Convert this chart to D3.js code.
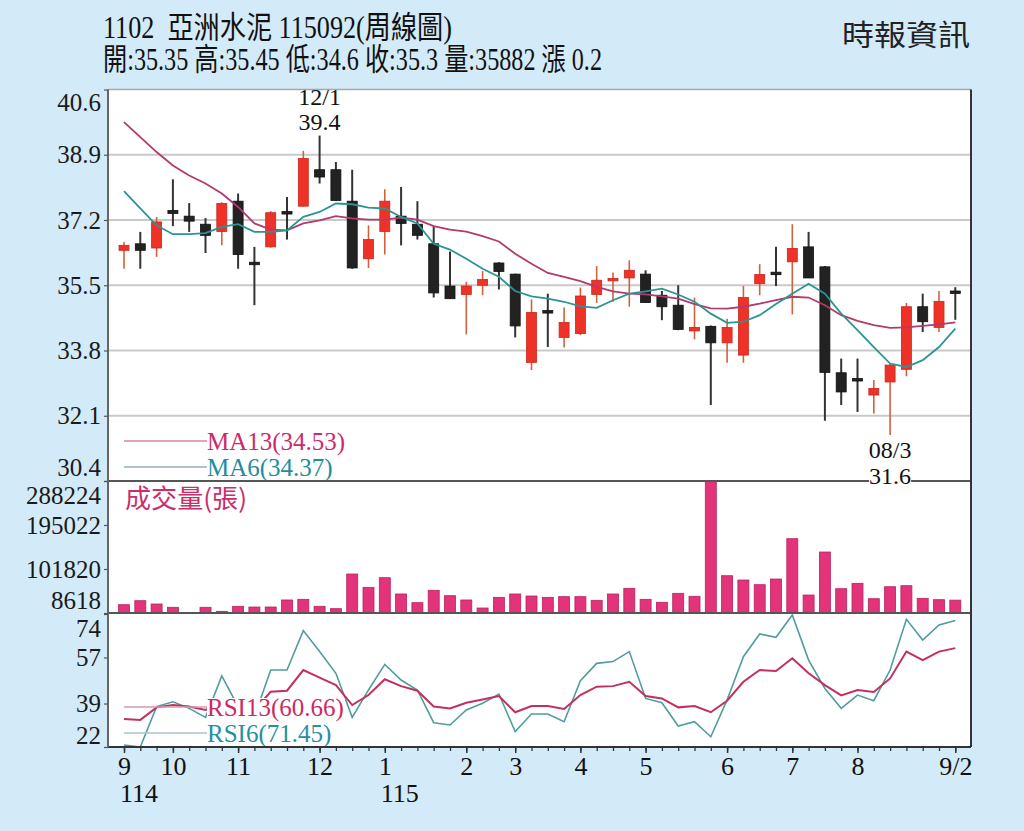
<!DOCTYPE html>
<html><head><meta charset="utf-8">
<script src="https://cdn.jsdelivr.net/npm/d3@7"></script>
<style>
html,body{margin:0;padding:0;background:#d3eaf8;}
svg{display:block;}
</style></head><body>
<svg id="chart" width="1024" height="831"></svg>
<script>
// ---------- DATA ----------
const weeks = ["25/09/08","25/09/15","25/09/22","25/09/29","25/10/06","25/10/13","25/10/20","25/10/27","25/11/03","25/11/10",
  "25/11/17","25/11/24","25/12/01","25/12/08","25/12/15","25/12/22","25/12/29","26/01/05","26/01/12","26/01/19",
  "26/01/26","26/02/02","26/02/09","26/02/16","26/02/23","26/03/02","26/03/09","26/03/16","26/03/23","26/03/30",
  "26/04/06","26/04/13","26/04/20","26/04/27","26/05/04","26/05/11","26/05/18","26/05/25","26/06/01","26/06/08",
  "26/06/15","26/06/22","26/06/29","26/07/06","26/07/13","26/07/20","26/07/27","26/08/03","26/08/10","26/08/17",
  "26/08/24","26/08/31"];
const openP  = [36.41,36.58,36.47,37.45,37.30,37.09,36.90,37.69,36.10,36.50,37.42,37.56,38.51,38.51,37.69,36.19,36.90,37.30,37.09,36.58,
  35.48,35.26,35.50,36.08,35.79,33.49,34.84,34.14,34.24,35.26,35.64,35.69,35.79,35.24,34.98,34.31,34.43,34.00,33.68,35.54,
  35.84,36.11,36.50,35.98,33.22,33.07,32.64,32.98,33.31,34.94,34.40,35.35];
const highP  = [36.63,36.89,37.28,38.26,37.64,37.25,37.66,37.89,36.50,37.43,37.80,39.00,39.40,38.71,38.51,37.06,38.00,38.06,37.69,37.04,
  36.38,35.59,35.87,36.10,35.80,35.13,35.28,34.92,35.44,36.00,35.83,36.15,35.89,35.35,35.50,35.18,34.45,34.63,35.48,36.05,
  36.50,37.09,36.89,36.00,33.59,33.59,33.03,33.45,35.04,35.28,35.35,35.45];
const lowP   = [35.93,35.93,36.24,37.04,36.89,36.34,36.54,35.93,34.98,36.48,36.69,37.55,38.15,37.70,35.93,35.95,36.30,36.54,36.69,35.18,
  35.14,34.22,35.24,35.39,34.14,33.29,33.89,33.88,34.20,35.04,35.07,34.94,35.04,34.59,34.33,34.09,32.38,33.48,33.48,35.24,
  35.48,34.74,35.69,31.97,32.38,32.20,32.16,31.60,33.13,34.28,34.28,34.60];
const closeP = [36.54,36.41,37.15,37.37,37.17,36.80,37.63,36.30,36.06,37.39,37.38,38.80,38.32,37.71,35.95,36.69,37.69,37.11,36.80,35.30,
  35.15,35.48,35.65,35.86,34.44,34.79,34.80,34.53,35.22,35.63,35.68,35.89,35.05,34.94,34.35,34.40,34.00,34.40,35.18,35.78,
  35.78,36.46,35.69,33.23,32.72,33.03,32.81,33.42,34.94,34.55,35.08,35.30];
const volume = [26200,34700,27700,20700,8618,20700,12200,22800,21300,21300,36200,37600,22800,17800,91200,63000,83400,48900,30500,56700,
  45300,36200,19200,41800,48900,44600,41800,43200,43200,35500,48900,60900,37600,31300,50300,44000,288224,87600,78500,68600,
  80600,166000,46700,137800,60100,71500,38900,64300,66500,39700,36800,35882];
const ma13 = [39.75,39.36,38.97,38.62,38.36,38.15,37.89,37.54,37.11,36.95,36.93,37.11,37.19,37.30,37.24,37.21,37.21,37.26,37.21,37.04,
  36.95,36.90,36.78,36.64,36.32,36.06,35.82,35.72,35.61,35.46,35.34,35.28,35.26,35.21,35.15,35.01,34.90,34.89,34.94,35.02,
  35.11,35.20,35.18,34.98,34.72,34.57,34.46,34.39,34.40,34.44,34.48,34.53];
const ma6 = [37.95,37.50,37.06,36.83,36.83,36.86,37.02,37.09,36.89,36.89,36.93,37.28,37.41,37.63,37.61,37.52,37.50,37.28,37.11,36.58,
  36.43,36.19,35.93,35.72,35.35,35.21,35.15,35.07,34.95,34.91,35.11,35.28,35.34,35.41,35.26,35.07,34.76,34.52,34.55,34.72,
  35.01,35.28,35.54,35.28,34.76,34.33,33.89,33.46,33.37,33.55,33.89,34.37];
const rsi13 = [32.9,32.6,37.5,38.4,37.8,36.5,39.7,38.4,36.5,43.6,44.0,52.1,49.1,46.2,38.4,42.3,48.5,45.8,44.0,37.8,
  37.1,39.3,40.6,41.9,35.6,38.0,38.0,36.9,42.3,45.6,45.8,47.5,41.9,41.0,37.5,38.0,35.6,40.1,47.5,52.1,
  51.7,56.7,50.8,46.2,42.2,44.3,43.5,48.8,59.3,56.0,59.3,60.66];
const rsi6 = [22.8,22.0,37.8,39.7,37.1,33.6,49.8,37.8,33.9,52.1,52.1,67.5,59.3,50.8,33.6,44.3,54.3,48.2,44.3,31.5,
  30.6,36.5,39.1,42.7,28.0,34.9,34.9,31.9,47.9,54.7,55.4,59.3,41.0,39.3,30.2,31.9,26.0,40.4,57.3,66.2,
  64.9,73.6,56.0,44.9,37.1,42.3,40.1,52.1,71.9,63.8,69.7,71.45];
const priceTicks  = [30.4, 32.1, 33.8, 35.5, 37.2, 38.9, 40.6];
const volumeTicks = [8618, 101820, 195022, 288224];
const rsiTicks    = [22, 39, 57, 74];
const monthTickIdx    = [0, 3, 7, 12, 16, 21, 24, 28, 32, 37, 41, 45, 51];
const monthTickLabels = ["9","10","11","12","1","2","3","4","5","6","7","8","9/2"];
const yearTickIdx    = [0, 16];
const yearTickLabels = ["114", "115"];
const titleText  = "1102  亞洲水泥 115092(周線圖)";
const quoteText  = "開:35.35 高:35.45 低:34.6 收:35.3 量:35882 漲 0.2";
const sourceText = "時報資訊";
const maLabels  = ["MA13(34.53)", "MA6(34.37)"];
const rsiLabels = ["RSI13(60.66)", "RSI6(71.45)"];
const volLabel  = "成交量(張)";
const highMark = {idx: 12, date: "12/1", value: "39.4"};
const lowMark  = {idx: 47, date: "08/3", value: "31.6"};

// ---------- LAYOUT ----------
const svg = d3.select("#chart");
const FONT = "'Liberation Serif','Times New Roman','Noto Sans CJK TC',serif";
const CJK = "'Noto Sans CJK TC','Liberation Serif',sans-serif";
const L = 108, R = 971;
const P = {top: 89.5, bottom: 481};
const V = {top: 481, bottom: 613};
const S = {top: 613, bottom: 747};
const RED = "#ee3227", REDW = "#d2613d", BLK = "#222", BLKW = "#333";

svg.append("rect").attr("width", 1024).attr("height", 831).attr("fill", "#d3eaf8");
svg.append("rect").attr("x", L).attr("y", P.top).attr("width", R - L).attr("height", S.bottom - P.top).attr("fill", "#fff");

const x = d3.scalePoint().domain(weeks).range([124, 955.3]);
const yP = d3.scaleLinear().domain([priceTicks[0], priceTicks[priceTicks.length - 1]]).range([P.bottom, P.top]);
const yV = d3.scaleLinear().domain([volumeTicks[0], volumeTicks[volumeTicks.length - 1]]).range([V.bottom, V.top]);
const yR = d3.scaleLinear().domain([rsiTicks[0], rsiTicks[rsiTicks.length - 1]]).range([S.bottom, S.top + 1]);

// gridlines
svg.append("g").selectAll("line").data(priceTicks.slice(1, -1)).join("line")
  .attr("x1", L).attr("x2", R).attr("y1", d => yP(d)).attr("y2", d => yP(d))
  .attr("stroke", "#c9c9c9").attr("stroke-width", 2);

// ---------- VOLUME ----------
svg.append("g").selectAll("rect").data(weeks).join("rect")
  .attr("x", d => x(d) - 5.5).attr("width", 11)
  .attr("y", (d, i) => yV(volume[i]))
  .attr("height", (d, i) => Math.max(0, yV(volumeTicks[0]) - yV(volume[i])))
  .attr("fill", "#e2337b").attr("stroke", "#b8245e").attr("stroke-width", 0.8);

svg.append("text").attr("x", 125).attr("y", 508).attr("font-family", CJK).attr("font-size", 26)
  .attr("fill", "#c8306a").attr("textLength", 122).attr("lengthAdjust", "spacingAndGlyphs").text(volLabel);

// ---------- CANDLES ----------
const candles = weeks.map((w, i) => ({w, o: openP[i], h: highP[i], l: lowP[i], c: closeP[i]}));
const cg = svg.append("g");
cg.selectAll("line").data(candles).join("line")
  .attr("x1", d => x(d.w)).attr("x2", d => x(d.w))
  .attr("y1", d => yP(d.h)).attr("y2", d => yP(d.l))
  .attr("stroke", d => d.c > d.o ? REDW : BLKW).attr("stroke-width", d => d.c > d.o ? 1.6 : 2);
cg.selectAll("rect").data(candles).join("rect")
  .attr("x", d => x(d.w) - 5).attr("width", 10)
  .attr("y", d => yP(Math.max(d.o, d.c)))
  .attr("height", d => Math.max(2.5, Math.abs(yP(d.o) - yP(d.c))))
  .attr("fill", d => d.c > d.o ? RED : BLK)
  .attr("stroke", d => d.c > d.o ? "#c8281f" : "#111").attr("stroke-width", 0.8);

// MA lines
const lineP = arr => d3.line().x((d, i) => x(weeks[i])).y(d => yP(d))(arr);
svg.append("path").attr("d", lineP(ma13)).attr("fill", "none").attr("stroke", "#b23a6c").attr("stroke-width", 1.8);
svg.append("path").attr("d", lineP(ma6)).attr("fill", "none").attr("stroke", "#2b9494").attr("stroke-width", 1.8);

// ---------- RSI ----------
svg.append("clipPath").attr("id", "rsiclip").append("rect")
  .attr("x", L).attr("y", S.top).attr("width", R - L).attr("height", S.bottom - S.top);
const lineR = arr => d3.line().x((d, i) => x(weeks[i])).y(d => yR(d))(arr);
const rg = svg.append("g").attr("clip-path", "url(#rsiclip)");
rg.append("path").attr("d", lineR(rsi6)).attr("fill", "none").attr("stroke", "#4f9d9d").attr("stroke-width", 1.6);
rg.append("path").attr("d", lineR(rsi13)).attr("fill", "none").attr("stroke", "#c2305e").attr("stroke-width", 2);

// ---------- LEGENDS ----------
function legendBlock(y0, labels, lineColors, textColors, bottom) {
  const g = svg.append("g");
  const box = g.append("rect").attr("fill", "#fff");
  let maxW = 0, top = null;
  labels.forEach((lab, k) => {
    const y = y0 + k * 26;
    g.append("line").attr("x1", 124).attr("x2", 207).attr("y1", y).attr("y2", y)
      .attr("stroke", lineColors[k]).attr("stroke-width", 1.5);
    const t = g.append("text").attr("x", 207).attr("y", y + 9).attr("font-family", FONT)
      .attr("font-size", 25).attr("fill", textColors[k]).text(lab);
    const bb = t.node().getBBox();
    maxW = Math.max(maxW, bb.width);
    if (top === null) top = bb.y + 4;
  });
  box.attr("x", 207).attr("y", top).attr("width", maxW + 1).attr("height", bottom - top - 1);
}
legendBlock(441, maLabels, ["#cf8aa3", "#8fb3b8"], ["#cc2a6c", "#1f8d9c"], P.bottom);
legendBlock(707, rsiLabels, ["#d79aae", "#a9c4c6"], ["#cc2a62", "#2590a2"], S.bottom);

// ---------- BORDERS ----------
const bl = (x1, y1, x2, y2, c, w) => svg.append("line").attr("x1", x1).attr("y1", y1).attr("x2", x2).attr("y2", y2)
  .attr("stroke", c).attr("stroke-width", w);
bl(L, P.top, R, P.top, "#a8a8a8", 1.5);
bl(L, P.bottom, R, P.bottom, "#555", 2);
bl(L, V.bottom, R, V.bottom, "#555", 2);
bl(L, S.bottom, R, S.bottom, "#333", 2);
bl(L, P.top, L, S.bottom, "#666", 2);
bl(R, P.top, R, S.bottom, "#333", 2);

// ---------- Y AXES ----------
function leftAxis(scale, ticks, fmt, topShift, bottomShift) {
  const g = svg.append("g").attr("transform", `translate(${L},0)`)
    .call(d3.axisLeft(scale).tickValues(ticks).tickSize(4).tickPadding(3).tickFormat(fmt));
  g.select(".domain").remove();
  g.selectAll(".tick line").attr("stroke", "#555").attr("stroke-width", 1.2);
  g.selectAll(".tick text").attr("font-family", FONT).attr("font-size", 25).attr("fill", "#1a1a1a");
  g.selectAll(".tick text").filter(d => d === ticks[ticks.length - 1]).attr("y", topShift);
  g.selectAll(".tick text").filter(d => d === ticks[0]).attr("y", bottomShift);
}
leftAxis(yP, priceTicks, d3.format(".1f"), 12.5, -14);
leftAxis(yV, volumeTicks, d => String(d), 14, -13);
leftAxis(yR, rsiTicks, d => String(d), 14, -12);

// ---------- X AXIS ----------
const gx = svg.append("g").attr("transform", `translate(0,${S.bottom})`)
  .call(d3.axisBottom(x).tickValues(weeks).tickSize(4).tickFormat(""));
gx.select(".domain").remove();
gx.selectAll("line").attr("stroke", "#333").attr("stroke-width", 1.3);
const gm = svg.append("g").attr("transform", `translate(0,${S.bottom})`)
  .call(d3.axisBottom(x).tickValues(monthTickIdx.map(i => weeks[i])).tickSize(6)
    .tickFormat((d, i) => monthTickLabels[i]));
gm.select(".domain").remove();
gm.selectAll("line").attr("stroke", "#333").attr("stroke-width", 1.5);
gm.selectAll("text").attr("font-family", FONT).attr("font-size", 26).attr("fill", "#111").attr("y", 28).attr("dy", 0);
svg.append("g").selectAll("text").data(yearTickIdx).join("text")
  .attr("x", d => x(weeks[d]) - 4).attr("y", 802).attr("font-family", FONT).attr("font-size", 26)
  .attr("fill", "#111").text((d, i) => yearTickLabels[i]);

// ---------- ANNOTATIONS ----------
function ann(idx, txt, y, bg) {
  const g = svg.append("g");
  const r = g.append("rect").attr("fill", "#fff");
  const t = g.append("text").attr("x", x(weeks[idx])).attr("y", y).attr("text-anchor", "middle")
    .attr("font-family", FONT).attr("font-size", 24).attr("fill", "#111").text(txt);
  if (bg) { const b = t.node().getBBox(); r.attr("x", b.x).attr("y", b.y + 4).attr("width", b.width).attr("height", b.height - 5); }
}
ann(highMark.idx, highMark.date, 105, false);
ann(highMark.idx, highMark.value, 130, false);
ann(lowMark.idx, lowMark.date, 458, false);
ann(lowMark.idx, lowMark.value, 484, true);

// ---------- TITLES ----------
svg.append("text").attr("x", 103).attr("y", 38).attr("font-family", FONT).attr("font-size", 31)
  .attr("fill", "#111").style("white-space", "pre").attr("xml:space", "preserve")
  .attr("textLength", 349).attr("lengthAdjust", "spacingAndGlyphs").text(titleText);
svg.append("text").attr("x", 103).attr("y", 70).attr("font-family", FONT).attr("font-size", 31)
  .attr("fill", "#111").attr("textLength", 499).attr("lengthAdjust", "spacingAndGlyphs").text(quoteText);
svg.append("text").attr("x", 970).attr("y", 46).attr("text-anchor", "end").attr("font-family", CJK).attr("font-size", 29)
  .attr("fill", "#222").attr("textLength", 128).attr("lengthAdjust", "spacingAndGlyphs").text(sourceText);
</script>
</body></html>
